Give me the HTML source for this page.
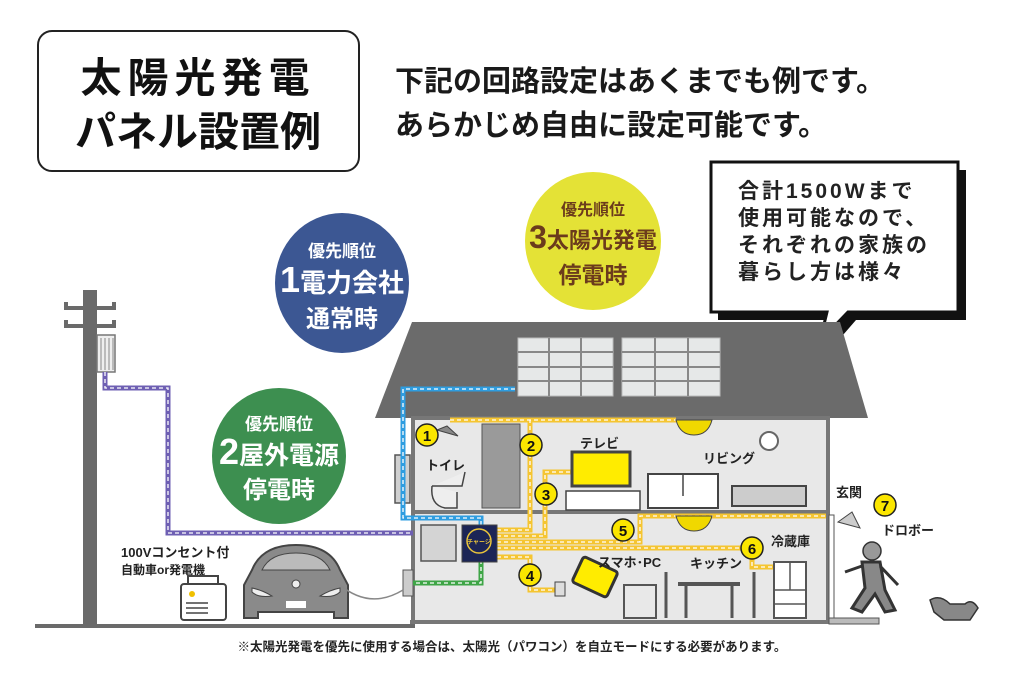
<!DOCTYPE html>
<html><head><meta charset="utf-8"><style>
html,body{margin:0;padding:0;background:#fff;}
svg{display:block;}
text{font-family:"Liberation Sans","Noto Sans CJK JP",sans-serif;font-weight:bold;}
</style></head><body>
<svg width="1024" height="674" viewBox="0 0 1024 674" xmlns="http://www.w3.org/2000/svg">
<rect width="1024" height="674" fill="#fff"/>
<rect x="38" y="31" width="321" height="140" rx="14" fill="#fff" stroke="#222" stroke-width="2"/>
<text x="198" y="92" font-size="41" text-anchor="middle" fill="#111" letter-spacing="6">太陽光発電</text>
<text x="198" y="146" font-size="41" text-anchor="middle" fill="#111">パネル設置例</text>
<text x="395" y="91" font-size="29" fill="#1a1a1a">下記の回路設定はあくまでも例です。</text>
<text x="395" y="135" font-size="29" fill="#1a1a1a">あらかじめ自由に設定可能です。</text>

<ellipse cx="342" cy="283" rx="67" ry="70" fill="#3c5793"/>
<text x="342" y="257" font-size="17" fill="#fff" text-anchor="middle">優先順位</text>
<text x="342" y="292" font-size="26" fill="#fff" text-anchor="middle"><tspan font-size="36">1</tspan>電力会社</text>
<text x="342" y="327" font-size="24" fill="#fff" text-anchor="middle">通常時</text>

<ellipse cx="593" cy="241" rx="68" ry="69" fill="#e4e236"/>
<text x="593" y="215" font-size="16" fill="#6b3b1c" text-anchor="middle">優先順位</text>
<text x="593" y="248" font-size="22" fill="#6b3b1c" text-anchor="middle"><tspan font-size="32">3</tspan>太陽光発電</text>
<text x="593" y="283" font-size="23" fill="#6b3b1c" text-anchor="middle">停電時</text>

<ellipse cx="279" cy="456" rx="67" ry="68" fill="#3d8f50"/>
<text x="279" y="430" font-size="17" fill="#fff" text-anchor="middle">優先順位</text>
<text x="279" y="464" font-size="25" fill="#fff" text-anchor="middle"><tspan font-size="36">2</tspan>屋外電源</text>
<text x="279" y="498" font-size="24" fill="#fff" text-anchor="middle">停電時</text>

<path d="M714 166 H962 V316 H852 L826 346 L833 316 H714 Z" fill="#111" transform="translate(4,4)"/>
<path d="M711 162 H958 V312 H848 L820 341 L827 312 H711 Z" fill="#fff" stroke="#111" stroke-width="3"/>
<text x="738" y="198" font-size="21" fill="#222" letter-spacing="3">合計1500Wまで</text>
<text x="738" y="225" font-size="21" fill="#222" letter-spacing="3">使用可能なので、</text>
<text x="738" y="252" font-size="21" fill="#222" letter-spacing="3">それぞれの家族の</text>
<text x="738" y="279" font-size="21" fill="#222" letter-spacing="3">暮らし方は様々</text>

<rect x="35" y="624" width="380" height="4" fill="#6a6a6a"/>
<rect x="83" y="290" width="14" height="336" fill="#6a6a6a"/>
<path d="M66 302 V308 H114 V302 M66 320 V326 H114 V320" fill="none" stroke="#6a6a6a" stroke-width="4"/>
<rect x="97" y="335" width="18" height="37" fill="#eee" stroke="#777" stroke-width="1.5"/>
<path d="M101 338 V370 M105 338 V370 M109 338 V370 M113 338 V370" stroke="#888" stroke-width="1"/>

<polygon points="412,322 840,322 868,418 375,418" fill="#6b6b6b"/>
<g fill="#e6e8e8" stroke="#bbb">
<rect x="518" y="338" width="95" height="58"/><rect x="622" y="338" width="98" height="58"/>
</g>
<path d="M518 352 H613 M518 367 H613 M518 381 H613 M549 338 V396 M581 338 V396 M622 352 H720 M622 367 H720 M622 381 H720 M655 338 V396 M688 338 V396" stroke="#888" stroke-width="2"/>

<rect x="413" y="418" width="415" height="204" fill="#e8e8e8" stroke="#777" stroke-width="4"/>
<rect x="413" y="510" width="415" height="4" fill="#777"/>
<rect x="410" y="620" width="420" height="4" fill="#777"/>
<rect x="829" y="515" width="5" height="105" fill="#fff" stroke="#555"/>
<rect x="829" y="618" width="50" height="6" fill="#bbb" stroke="#555"/>

<rect x="395" y="455" width="15" height="48" fill="#d0d0d0" stroke="#555" stroke-width="1.5"/>
<rect x="403" y="570" width="10" height="26" fill="#ccc" stroke="#555"/>

<g fill="none" stroke-width="5">
<path d="M105 372 V388 H168 V533 H413" stroke="#6e5fb3"/>
<path d="M515 389 H403 V518 H481 V527" stroke="#2e9de0"/>
<path d="M481 560 V583 H413" stroke="#3ea546"/>
<g stroke="#f5c531">
<path d="M450 420 H676"/><path d="M497 530 H530 V420"/>
<path d="M497 536 H545 V472 H572"/>
<path d="M497 542 H640 V516 H826"/>
<path d="M497 548 H745"/><path d="M752 555 V567 H778"/>
<path d="M497 557 H530 V590 H556"/>
</g>
</g>
<g fill="none" stroke="#fff" stroke-width="1.3" stroke-dasharray="4 3">
<path d="M105 372 V388 H168 V533 H413"/>
<path d="M515 389 H403 V518 H481 V527"/>
<path d="M481 560 V583 H413"/>
<path d="M450 420 H676"/><path d="M497 530 H530 V420"/>
<path d="M497 536 H545 V472 H572"/>
<path d="M497 542 H640 V516 H826"/>
<path d="M497 548 H745"/><path d="M752 555 V567 H778"/>
<path d="M497 557 H530 V590 H556"/>
</g>

<rect x="421" y="525" width="35" height="36" fill="#d4d4d4" stroke="#555" stroke-width="1.5"/>
<rect x="462" y="525" width="35" height="37" fill="#1c2556" stroke="#444"/>
<circle cx="479" cy="541" r="12" fill="none" stroke="#e9c43b" stroke-width="1.5"/>
<text x="479" y="544" font-size="6" fill="#e9c43b" text-anchor="middle">チャージ</text>

<rect x="482" y="424" width="38" height="84" fill="#9a9a9a" stroke="#555"/>
<path d="M437 430 L447 426 L458 436 Z" fill="#888" stroke="#444"/>
<path d="M432 486 H462 L465 472 M432 486 Q430 505 445 508 H457 V492" fill="#eee" stroke="#444" stroke-width="1.5"/>
<rect x="572" y="452" width="58" height="34" fill="#ffec00" stroke="#444" stroke-width="3"/>
<rect x="566" y="491" width="74" height="19" fill="#fff" stroke="#444" stroke-width="1.5"/>
<path d="M676 420 H712 Q708 435 694 435 Q680 435 676 420 Z" fill="#f0d800" stroke="#444"/>
<circle cx="769" cy="441" r="9" fill="#fff" stroke="#666" stroke-width="2"/>
<rect x="648" y="474" width="70" height="34" fill="#fff" stroke="#444" stroke-width="2"/>
<path d="M683 474 V496" stroke="#444" stroke-width="1.5"/>
<rect x="732" y="486" width="74" height="20" fill="#ccc" stroke="#444" stroke-width="2"/>
<path d="M676 516 H712 Q708 531 694 531 Q680 531 676 516 Z" fill="#f0d800" stroke="#444"/>
<rect x="774" y="562" width="32" height="56" fill="#fff" stroke="#555" stroke-width="2"/>
<path d="M774 590 H806 M774 604 H806 M790 562 V590" stroke="#555" stroke-width="1.5"/>
<rect x="576" y="563" width="38" height="28" rx="3" fill="#ffec00" stroke="#333" stroke-width="3" transform="rotate(25 595 577)"/>
<rect x="555" y="582" width="10" height="14" fill="#ddd" stroke="#444"/>
<rect x="624" y="585" width="32" height="33" fill="none" stroke="#555" stroke-width="2"/>
<rect x="678" y="582" width="62" height="4" fill="#555"/>
<path d="M686 586 V618 M732 586 V618 M666 572 V618 M754 572 V618" stroke="#555" stroke-width="3"/>

<g fill="#fbe600" stroke="#222" stroke-width="1.5">
<circle cx="427" cy="435" r="11"/><circle cx="531" cy="445" r="11"/><circle cx="546" cy="494" r="11"/>
<circle cx="530" cy="575" r="11"/><circle cx="623" cy="530" r="11"/><circle cx="752" cy="548" r="11"/><circle cx="885" cy="505" r="11"/>
</g>
<g font-size="15" text-anchor="middle" fill="#111">
<text x="427" y="441">1</text><text x="531" y="451">2</text><text x="546" y="500">3</text>
<text x="530" y="581">4</text><text x="623" y="536">5</text><text x="752" y="554">6</text><text x="885" y="511">7</text>
</g>

<g font-size="13" fill="#222">
<text x="426" y="470">トイレ</text>
<text x="580" y="448">テレビ</text>
<text x="703" y="463">リビング</text>
<text x="836" y="497">玄関</text>
<text x="882" y="535">ドロボー</text>
<text x="771" y="546">冷蔵庫</text>
<text x="598" y="567">スマホ･PC</text>
<text x="690" y="568">キッチン</text>
<text x="121" y="557">100Vコンセント付</text>
<text x="121" y="574" font-size="12">自動車or発電機</text>
</g>
<text x="512" y="651" font-size="12.5" fill="#222" text-anchor="middle">※太陽光発電を優先に使用する場合は、太陽光（パワコン）を自立モードにする必要があります。</text>

<path d="M838 522 L852 512 L860 528 Z" fill="#ccc" stroke="#444"/>
<circle cx="872" cy="551" r="9" fill="#999" stroke="#333" stroke-width="1.5"/>
<path d="M862 562 L880 562 L885 590 L895 610 L885 612 L875 594 L862 612 L852 608 L865 588 Z M862 566 L845 572 M880 566 L898 585" fill="#888" stroke="#333" stroke-width="3"/>
<path d="M930 600 Q940 594 950 604 L965 604 Q972 598 978 608 L970 620 L944 620 L934 612 Z" fill="#888" stroke="#333" stroke-width="1.5"/>

<path d="M252 570 Q262 545 296 545 Q330 545 340 570 L348 585 L348 618 L334 618 L334 612 L258 612 L258 618 L244 618 L244 585 Z" fill="#8a8a8a" stroke="#444" stroke-width="2"/>
<path d="M262 570 Q270 553 296 553 Q322 553 330 570 Z" fill="#bbb" stroke="#444"/>
<path d="M252 588 Q262 590 272 596 Q258 598 252 592 Z M340 588 Q330 590 320 596 Q334 598 340 592 Z" fill="#eee" stroke="#444"/>
<circle cx="296" cy="584" r="4" fill="#eee" stroke="#444"/>
<rect x="286" y="601" width="20" height="7" fill="#fff"/>
<path d="M340 585 Q370 610 403 590" fill="none" stroke="#888" stroke-width="1.5"/>
<rect x="181" y="584" width="45" height="36" rx="3" fill="#fff" stroke="#444" stroke-width="2"/>
<path d="M188 584 V576 H218 V584" fill="none" stroke="#444" stroke-width="2"/>
<path d="M186 603 H208 M186 608 H208 M186 613 H208" stroke="#444" stroke-width="1.5"/>
<circle cx="192" cy="594" r="3" fill="#f0c000"/>
</svg>
</body></html>
